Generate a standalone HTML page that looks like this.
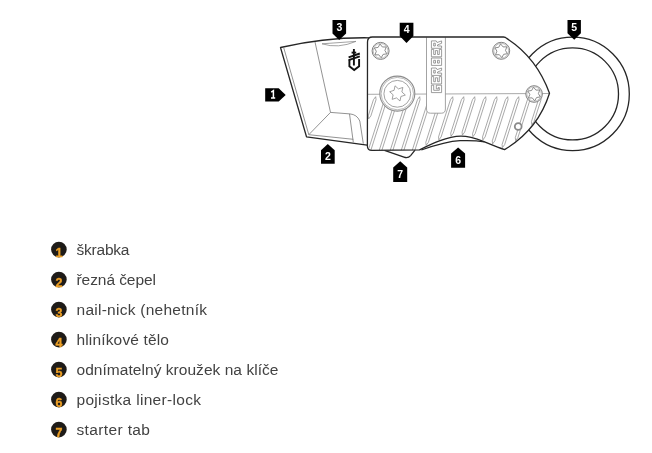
<!DOCTYPE html><html><head><meta charset="utf-8"><style>html,body{margin:0;padding:0;background:#fff;overflow:hidden}svg{display:block;will-change:transform}</style></head><body><svg width="652" height="453" viewBox="0 0 652 453">
<rect width="652" height="453" fill="#fff"/>
<defs><clipPath id="hc"><path d="M367.50,42.00 Q367.50,37.00 372.50,37.00 L503.50,37.00 Q505.50,37.00 506.70,38.40 Q536.60,57.60 549.50,93.30 Q538.00,129.70 504.60,149.60 C497.00,147.00 490.00,144.00 484.00,141.60 C475.00,138.20 468.00,136.20 461.00,136.20 C447.00,136.30 431.00,144.20 419.40,149.90 L371.90,150.40 Q367.40,150.40 367.40,145.90 Z"/></clipPath></defs>
<circle cx="572.6" cy="93.9" r="56.7" fill="none" stroke="#262626" stroke-width="1.3"/>
<circle cx="572.5" cy="93.9" r="46" fill="none" stroke="#262626" stroke-width="1.3"/>
<path d="M280.5,47.5 Q325,37.2 369,37.8 L369,145.4 L306.5,136.8 Z" fill="#fff" stroke="#262626" stroke-width="1.3" stroke-linejoin="round"/>
<path d="M283.8,48 L308.8,134.7 L353.3,139.3 M308.8,134.7 L330.5,112.4 L315,42 M330.5,112.4 L349.9,113.9 Q357,114.5 359.8,121 L363.3,143.6 M349.5,113.9 L353.3,142.3" fill="none" stroke="#777" stroke-width="0.8"/>
<path d="M322,43.8 L356,41.4 Q338,49 322,43.8 Z" fill="none" stroke="#8c8c8c" stroke-width="0.8"/>
<g fill="none" stroke="#111" stroke-width="1.9" stroke-linecap="butt"><path d="M353.9,49 L353.9,65.5"/><path d="M351.6,52.6 L356.2,52.6"/><path d="M348.6,57.3 L359.8,53.5 M348.6,60.2 L359.8,56.4"/><path d="M349.4,59.8 L349.4,66.2 L354.2,70 L359.1,66.2 L359.1,59.0"/></g>
<path d="M421.3,150 C434,145.6 447,141.4 460,140.7 C471,140.3 479,140.9 484.5,141.8" fill="none" stroke="#262626" stroke-width="1.3"/>
<path d="M384.5,150.4 L404,157.1 Q408,158.5 410.6,155.6 L415,150.2" fill="none" stroke="#262626" stroke-width="1.3" stroke-linejoin="round"/>
<path d="M367.50,42.00 Q367.50,37.00 372.50,37.00 L503.50,37.00 Q505.50,37.00 506.70,38.40 Q536.60,57.60 549.50,93.30 Q538.00,129.70 504.60,149.60 C497.00,147.00 490.00,144.00 484.00,141.60 C475.00,138.20 468.00,136.20 461.00,136.20 C447.00,136.30 431.00,144.20 419.40,149.90 L371.90,150.40 Q367.40,150.40 367.40,145.90 Z" fill="#fff" stroke="none"/>
<g clip-path="url(#hc)"><path d="M375.70,96.70 L376.04,99.70 L370.86,115.90 L368.60,118.90 L368.26,115.90 L373.44,99.70Z M386.70,96.70 L387.04,99.70 L369.98,153.00 L367.72,156.00 L367.38,153.00 L384.44,99.70Z M397.70,96.70 L398.04,99.70 L380.98,153.00 L378.72,156.00 L378.38,153.00 L395.44,99.70Z M408.70,96.70 L409.04,99.70 L391.98,153.00 L389.72,156.00 L389.38,153.00 L406.44,99.70Z M419.70,96.70 L420.04,99.70 L402.98,153.00 L400.72,156.00 L400.38,153.00 L417.44,99.70Z M430.70,96.70 L431.04,99.70 L413.98,153.00 L411.72,156.00 L411.38,153.00 L428.44,99.70Z M441.70,96.70 L442.04,99.70 L428.41,142.30 L426.15,145.30 L425.81,142.30 L439.44,99.70Z M452.70,96.70 L453.04,99.70 L441.14,136.90 L438.88,139.90 L438.54,136.90 L450.44,99.70Z M463.70,96.70 L464.04,99.70 L453.32,133.20 L451.06,136.20 L450.72,133.20 L461.44,99.70Z M474.70,96.70 L475.04,99.70 L464.67,132.10 L462.41,135.10 L462.07,132.10 L472.44,99.70Z M485.70,96.70 L486.04,99.70 L475.16,133.70 L472.90,136.70 L472.56,133.70 L483.44,99.70Z M496.70,96.70 L497.04,99.70 L485.14,136.90 L482.88,139.90 L482.54,136.90 L494.44,99.70Z M507.70,96.70 L508.04,99.70 L494.86,140.90 L492.60,143.90 L492.26,140.90 L505.44,99.70Z M518.70,96.70 L519.04,99.70 L504.67,144.60 L502.41,147.60 L502.07,144.60 L516.44,99.70Z M529.70,96.70 L530.04,99.70 L517.91,137.60 L515.65,140.60 L515.31,137.60 L527.44,99.70Z M540.70,96.70 L541.04,99.70 L534.03,121.60 L531.77,124.60 L531.43,121.60 L538.44,99.70Z" fill="none" stroke="#8c8c8c" stroke-width="0.75"/></g>
<path d="M367.5,94.3 L549.5,93.5" stroke="#8c8c8c" stroke-width="0.75" fill="none"/>
<path d="M426.5,37.3 L426.5,109 Q426.5,113.2 430.5,113.2 L441.4,113.2 Q445.4,113.2 445.4,109 L445.4,37.3" fill="#fff" stroke="#8c8c8c" stroke-width="0.8"/>
<path transform="translate(441.6,92.6) rotate(-90)" d="M7.40,-10.20 L0.00,-10.20 L0.00,0.00 L7.40,0.00 L7.40,-5.30 L3.70,-5.30 L3.70,-3.30 L5.10,-3.30 L5.10,-2.30 L2.30,-2.30 L2.30,-7.90 L7.40,-7.90Z" fill="#fff" stroke="#7c7c7c" stroke-width="0.75" stroke-linejoin="miter" fill-rule="evenodd"/><path transform="translate(441.6,84.0) rotate(-90)" d="M0.00,0.00 L7.40,0.00 L7.40,-2.30 L2.30,-2.30 L2.30,-4.00 L6.20,-4.00 L6.20,-6.20 L2.30,-6.20 L2.30,-7.90 L7.40,-7.90 L7.40,-10.20 L0.00,-10.20Z" fill="#fff" stroke="#7c7c7c" stroke-width="0.75" stroke-linejoin="miter" fill-rule="evenodd"/><path transform="translate(441.6,75.4) rotate(-90)" d="M0.00,0.00 L2.30,0.00 L2.30,-4.10 L3.40,-4.10 L5.00,0.00 L7.40,0.00 L5.80,-4.50 L7.40,-5.40 L7.40,-10.20 L0.00,-10.20ZM2.30,-6.30 L5.10,-6.30 L5.10,-7.90 L2.30,-7.90Z" fill="#fff" stroke="#7c7c7c" stroke-width="0.75" stroke-linejoin="miter" fill-rule="evenodd"/><path transform="translate(441.6,65.4) rotate(-90)" d="M0.00,0.00 L7.40,0.00 L7.40,-10.20 L0.00,-10.20ZM2.30,-2.30 L5.10,-2.30 L5.10,-4.10 L2.30,-4.10ZM2.30,-6.10 L5.10,-6.10 L5.10,-7.90 L2.30,-7.90Z" fill="#fff" stroke="#7c7c7c" stroke-width="0.75" stroke-linejoin="miter" fill-rule="evenodd"/><path transform="translate(441.6,56.8) rotate(-90)" d="M0.00,0.00 L7.40,0.00 L7.40,-2.30 L2.30,-2.30 L2.30,-4.00 L6.20,-4.00 L6.20,-6.20 L2.30,-6.20 L2.30,-7.90 L7.40,-7.90 L7.40,-10.20 L0.00,-10.20Z" fill="#fff" stroke="#7c7c7c" stroke-width="0.75" stroke-linejoin="miter" fill-rule="evenodd"/><path transform="translate(441.6,48.3) rotate(-90)" d="M0.00,0.00 L2.30,0.00 L2.30,-4.10 L3.40,-4.10 L5.00,0.00 L7.40,0.00 L5.80,-4.50 L7.40,-5.40 L7.40,-10.20 L0.00,-10.20ZM2.30,-6.30 L5.10,-6.30 L5.10,-7.90 L2.30,-7.90Z" fill="#fff" stroke="#7c7c7c" stroke-width="0.75" stroke-linejoin="miter" fill-rule="evenodd"/>
<circle cx="397.3" cy="93.6" r="17.5" fill="#fff" stroke="#8c8c8c" stroke-width="1.1"/>
<circle cx="397.3" cy="93.6" r="16.2" fill="none" stroke="#8c8c8c" stroke-width="0.6"/>
<circle cx="397.3" cy="93.8" r="13.4" fill="none" stroke="#8c8c8c" stroke-width="0.8"/>
<path d="M395.03,85.79 L398.46,88.90 L402.85,87.45 L401.87,91.98 L405.33,95.06 L400.92,96.48 L399.97,101.01 L396.54,97.90 L392.15,99.35 L393.13,94.82 L389.67,91.74 L394.08,90.32Z" fill="none" stroke="#8c8c8c" stroke-width="0.8" stroke-linejoin="round"/>
<circle cx="518.2" cy="126.5" r="3.4" fill="#fff" stroke="#8a8a8a" stroke-width="1.8"/>
<circle cx="380.6" cy="50.9" r="8.5" fill="#fff" stroke="#808080" stroke-width="1.0"/><circle cx="380.6" cy="50.9" r="7.4" fill="none" stroke="#999" stroke-width="0.6"/><path d="M380.00,44.03 L382.42,47.00 L386.25,46.94 L384.88,50.53 L386.85,53.82 L383.07,54.42 L381.20,57.77 L378.78,54.80 L374.95,54.86 L376.32,51.27 L374.35,47.98 L378.13,47.38Z" fill="none" stroke="#808080" stroke-width="0.9" stroke-linejoin="round"/>
<circle cx="501.2" cy="50.8" r="8.5" fill="#fff" stroke="#808080" stroke-width="1.0"/><circle cx="501.2" cy="50.8" r="7.4" fill="none" stroke="#999" stroke-width="0.6"/><path d="M500.60,43.93 L503.02,46.90 L506.85,46.84 L505.48,50.43 L507.45,53.72 L503.67,54.32 L501.80,57.67 L499.38,54.70 L495.55,54.76 L496.92,51.17 L494.95,47.88 L498.73,47.28Z" fill="none" stroke="#808080" stroke-width="0.9" stroke-linejoin="round"/>
<circle cx="534.1" cy="94.0" r="8.3" fill="#fff" stroke="#808080" stroke-width="1.0"/><circle cx="534.1" cy="94.0" r="7.200000000000001" fill="none" stroke="#999" stroke-width="0.6"/><path d="M533.50,87.13 L535.92,90.10 L539.75,90.04 L538.38,93.63 L540.35,96.92 L536.57,97.52 L534.70,100.87 L532.28,97.90 L528.45,97.96 L529.82,94.37 L527.85,91.08 L531.63,90.48Z" fill="none" stroke="#808080" stroke-width="0.9" stroke-linejoin="round"/>
<path d="M367.50,42.00 Q367.50,37.00 372.50,37.00 L503.50,37.00 Q505.50,37.00 506.70,38.40 Q536.60,57.60 549.50,93.30 Q538.00,129.70 504.60,149.60 C497.00,147.00 490.00,144.00 484.00,141.60 C475.00,138.20 468.00,136.20 461.00,136.20 C447.00,136.30 431.00,144.20 419.40,149.90 L371.90,150.40 Q367.40,150.40 367.40,145.90 Z" fill="none" stroke="#262626" stroke-width="1.3" stroke-linejoin="round"/>
<path d="M332.5,20 L346.1,20 L346.1,33.4 L339.2,40.1 L332.5,33.4 Z" fill="#000"/><text x="339.3" y="31.1" text-anchor="middle" font-family="Liberation Sans" font-weight="bold" font-size="10.5" fill="#fff">3</text>
<path d="M399.7,22.8 L413.4,22.8 L413.4,35.9 L406.5,42.9 L399.7,35.9 Z" fill="#000"/><text x="406.54999999999995" y="33.2" text-anchor="middle" font-family="Liberation Sans" font-weight="bold" font-size="10.5" fill="#fff">4</text>
<path d="M567.5,20.1 L580.9,20.1 L580.9,33.2 L574.2,39.7 L567.5,33.2 Z" fill="#000"/><text x="574.2" y="30.5" text-anchor="middle" font-family="Liberation Sans" font-weight="bold" font-size="10.5" fill="#fff">5</text>
<path d="M321,163.8 L334.7,163.8 L334.7,150.2 L327.8,144 L321,150.2 Z" fill="#000"/><text x="327.85" y="159.8" text-anchor="middle" font-family="Liberation Sans" font-weight="bold" font-size="10.5" fill="#fff">2</text>
<path d="M393.2,181.9 L407.2,181.9 L407.2,167.6 L400.2,161.3 L393.2,167.6 Z" fill="#000"/><text x="400.2" y="177.9" text-anchor="middle" font-family="Liberation Sans" font-weight="bold" font-size="10.5" fill="#fff">7</text>
<path d="M451.1,167.7 L465.1,167.7 L465.1,153.4 L458.1,147.4 L451.1,153.4 Z" fill="#000"/><text x="458.1" y="163.7" text-anchor="middle" font-family="Liberation Sans" font-weight="bold" font-size="10.5" fill="#fff">6</text>
<path d="M265.2,88.3 L278.7,88.3 L285.7,95 L278.7,101.6 L265.2,101.6 Z" fill="#000"/><path d="M271.2,92.2 L273.4,90.6 L273.4,97.8 M271,97.9 L275.2,97.9" fill="none" stroke="#fff" stroke-width="1.5" stroke-linejoin="miter"/>
<circle cx="58.9" cy="249.6" r="7.8" fill="#1e1b18"/>
<text x="58.9" y="257.0" text-anchor="middle" font-family="Liberation Sans" font-weight="bold" font-size="12.5" fill="#eda027" stroke="#eda027" stroke-width="0.35">1</text>
<text x="76.5" y="254.9" font-family="Liberation Sans" font-size="15.5" fill="#424242" letter-spacing="-0.214">škrabka</text>
<circle cx="58.9" cy="279.6" r="7.8" fill="#1e1b18"/>
<text x="58.9" y="287.0" text-anchor="middle" font-family="Liberation Sans" font-weight="bold" font-size="12.5" fill="#eda027" stroke="#eda027" stroke-width="0.35">2</text>
<text x="76.5" y="284.9" font-family="Liberation Sans" font-size="15.5" fill="#424242" letter-spacing="-0.066">řezná čepel</text>
<circle cx="58.9" cy="309.6" r="7.8" fill="#1e1b18"/>
<text x="58.9" y="317.0" text-anchor="middle" font-family="Liberation Sans" font-weight="bold" font-size="12.5" fill="#eda027" stroke="#eda027" stroke-width="0.35">3</text>
<text x="76.5" y="314.9" font-family="Liberation Sans" font-size="15.5" fill="#424242" letter-spacing="0.260">nail-nick (nehetník</text>
<circle cx="58.9" cy="339.6" r="7.8" fill="#1e1b18"/>
<text x="58.9" y="347.0" text-anchor="middle" font-family="Liberation Sans" font-weight="bold" font-size="12.5" fill="#eda027" stroke="#eda027" stroke-width="0.35">4</text>
<text x="76.5" y="344.9" font-family="Liberation Sans" font-size="15.5" fill="#424242" letter-spacing="0.154">hliníkové tělo</text>
<circle cx="58.9" cy="369.6" r="7.8" fill="#1e1b18"/>
<text x="58.9" y="377.0" text-anchor="middle" font-family="Liberation Sans" font-weight="bold" font-size="12.5" fill="#eda027" stroke="#eda027" stroke-width="0.35">5</text>
<text x="76.5" y="374.9" font-family="Liberation Sans" font-size="15.5" fill="#424242" letter-spacing="0.044">odnímatelný kroužek na klíče</text>
<circle cx="58.9" cy="399.6" r="7.8" fill="#1e1b18"/>
<text x="58.9" y="407.0" text-anchor="middle" font-family="Liberation Sans" font-weight="bold" font-size="12.5" fill="#eda027" stroke="#eda027" stroke-width="0.35">6</text>
<text x="76.5" y="404.9" font-family="Liberation Sans" font-size="15.5" fill="#424242" letter-spacing="0.312">pojistka liner-lock</text>
<circle cx="58.9" cy="429.6" r="7.8" fill="#1e1b18"/>
<text x="58.9" y="437.0" text-anchor="middle" font-family="Liberation Sans" font-weight="bold" font-size="12.5" fill="#eda027" stroke="#eda027" stroke-width="0.35">7</text>
<text x="76.5" y="434.9" font-family="Liberation Sans" font-size="15.5" fill="#424242" letter-spacing="0.369">starter tab</text>
</svg></body></html>
